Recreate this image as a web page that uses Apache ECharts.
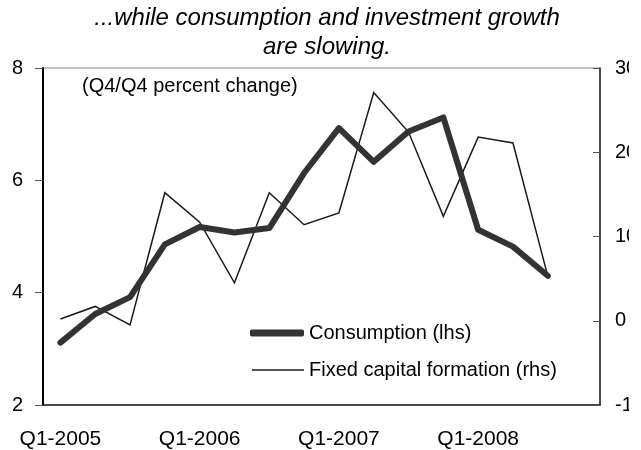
<!DOCTYPE html>
<html>
<head>
<meta charset="utf-8">
<script src="https://cdn.jsdelivr.net/npm/echarts@6/dist/echarts.min.js"></script>
<style>
html,body{margin:0;padding:0;background:#fff;}
#chart{width:629px;height:450px;}
</style>
</head>
<body>
<div id="chart"></div>
<script>
var categories = [
  'Q1-2005','Q2-2005','Q3-2005','Q4-2005',
  'Q1-2006','Q2-2006','Q3-2006','Q4-2006',
  'Q1-2007','Q2-2007','Q3-2007','Q4-2007',
  'Q1-2008','Q2-2008','Q3-2008','Q4-2008'
];
var consumption = [3.11, 3.62, 3.92, 4.86, 5.17, 5.07, 5.15, 6.13, 6.93, 6.33, 6.87, 7.12, 5.12, 4.82, 4.30, null];
var fixedCapital = [0.2, 1.7, -0.5, 15.2, 11.7, 4.5, 15.2, 11.4, 12.8, 27.1, 22.4, 12.4, 21.8, 21.1, 5.3, null];
var titleText = '...while consumption and investment growth\nare slowing.';
var noteText = '(Q4/Q4 percent change)';
var seriesNames = ['Consumption (lhs)', 'Fixed capital formation (rhs)'];

var FONT = '"Liberation Sans", Arial, sans-serif';
var chart = echarts.init(document.getElementById('chart'), null, {renderer: 'canvas'});
var legendText = {fontFamily: FONT, fontSize: 20, color: '#000'};
chart.setOption({
  animation: false,
  backgroundColor: '#ffffff',
  textStyle: {fontFamily: FONT},
  title: {
    text: titleText,
    left: 327,
    textAlign: 'center',
    top: 4,
    padding: 0,
    textStyle: {fontFamily: FONT, fontStyle: 'italic', fontWeight: 'normal', fontSize: 24, lineHeight: 29, color: '#000'}
  },
  grid: {
    left: 43, right: 29, top: 68, bottom: 45,
    containLabel: false,
    outerBoundsMode: 'none',
    show: true, borderColor: '#888888', borderWidth: 1, backgroundColor: 'transparent'
  },
  legend: [
    {
      left: 250, top: 323, padding: 0,
      icon: 'roundRect',
      itemWidth: 54, itemHeight: 7,
      data: [seriesNames[0]],
      textStyle: legendText
    },
    {
      left: 252, top: 360, padding: 0,
      icon: 'rect',
      itemWidth: 52, itemHeight: 1.5,
      data: [seriesNames[1]],
      textStyle: legendText
    }
  ],
  xAxis: {
    type: 'category',
    data: categories,
    boundaryGap: true,
    axisLine: {onZero: false, lineStyle: {color: '#222', width: 1.5}},
    axisTick: {show: false},
    axisLabel: {interval: 3, margin: 24, fontSize: 21, color: '#000', fontFamily: FONT},
    splitLine: {show: false}
  },
  yAxis: [
    {
      type: 'value', min: 2, max: 8, interval: 2, position: 'left',
      axisLine: {show: true, lineStyle: {color: '#000', width: 2}},
      axisTick: {show: true, inside: false, length: 8, lineStyle: {color: '#555', width: 1}},
      axisLabel: {margin: 20, fontSize: 20, color: '#000', fontFamily: FONT},
      splitLine: {show: false}
    },
    {
      type: 'value', min: -10, max: 30, interval: 10, position: 'right',
      axisLine: {show: true, lineStyle: {color: '#222', width: 1.5}},
      axisTick: {show: true, inside: true, length: 7, lineStyle: {color: '#555', width: 1}},
      axisLabel: {margin: 15, fontSize: 20, color: '#000', fontFamily: FONT},
      splitLine: {show: false}
    }
  ],
  series: [
    {
      name: seriesNames[0], type: 'line', yAxisIndex: 0, data: consumption,
      symbol: 'none', z: 3,
      lineStyle: {color: '#333333', width: 6, cap: 'round', join: 'round'},
      itemStyle: {color: '#333333'}
    },
    {
      name: seriesNames[1], type: 'line', yAxisIndex: 1, data: fixedCapital,
      symbol: 'none', z: 2,
      lineStyle: {color: '#1a1a1a', width: 1.5, join: 'miter'},
      itemStyle: {color: '#1a1a1a'}
    }
  ],
  graphic: [
    {
      type: 'text', left: 82, top: 76,
      style: {text: noteText, font: '20px ' + FONT, fill: '#000'}
    }
  ]
});
</script>
</body>
</html>
